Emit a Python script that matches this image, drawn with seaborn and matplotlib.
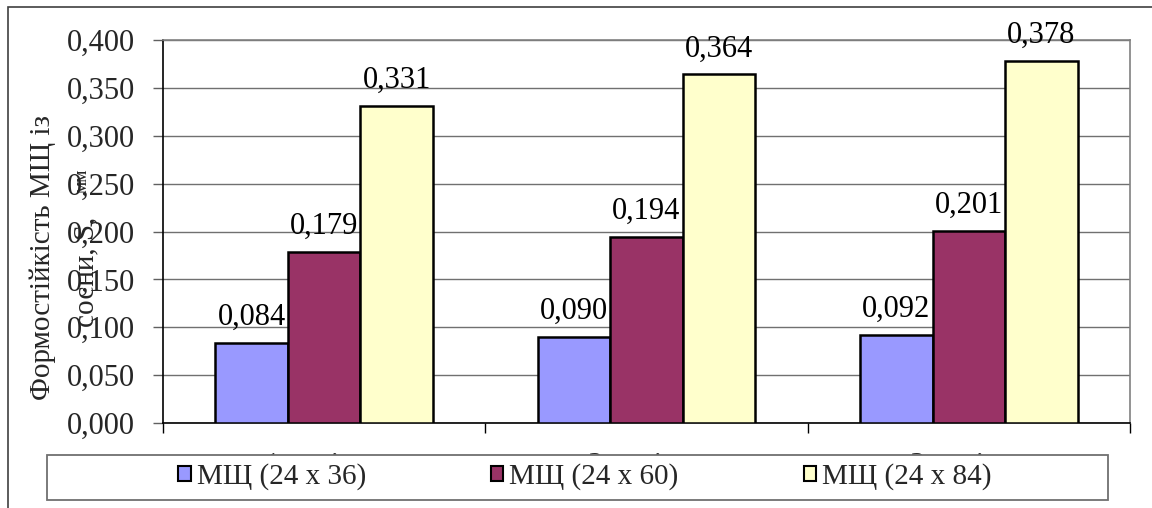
import matplotlib
matplotlib.use("Agg")
import matplotlib.pyplot as plt
from matplotlib.patches import Rectangle, Patch
from matplotlib.ticker import FuncFormatter, MultipleLocator, FixedLocator
import seaborn as sns
import pandas as pd

# Data
categories = ["1 варіант", "2 варіант", "3 варіант"]
series = ["МЩ (24 x 36)", "МЩ (24 x 60)", "МЩ (24 x 84)"]
values_24x36 = [0.084, 0.090, 0.092]
values_24x60 = [0.179, 0.194, 0.201]
values_24x84 = [0.331, 0.364, 0.378]
colors = ["#9999FF", "#993366", "#FFFFCC"]

rows = []
for s, vals in zip(series, [values_24x36, values_24x60, values_24x84]):
    for c, v in zip(categories, vals):
        rows.append({"cat": c, "series": s, "val": v})
df = pd.DataFrame(rows)

sns.set_style("white")
plt.rcParams["font.family"] = ["Liberation Serif", "DejaVu Serif"]

W, H = 1152, 508
fig = plt.figure(figsize=(W / 100, H / 100), dpi=100)
fig.patch.set_facecolor("white")

def fx(px):
    return px / W

def fy(py):
    return 1 - py / H

ax = fig.add_axes([fx(163), fy(423), fx(1130) - fx(163), fy(40) - fy(423)])

sns.barplot(data=df, x="cat", y="val", hue="series", order=categories,
            hue_order=series, palette=colors, saturation=1, width=0.675,
            edgecolor="black", linewidth=1.8, legend=False, ax=ax, zorder=3)

fmt = lambda v: f"{v:.3f}".replace(".", ",")

for cont in ax.containers:
    ax.bar_label(cont, fmt=fmt, padding=8, fontsize=22, color="black")

ax.set_ylim(0, 0.4)
ax.set_xlim(-0.5, 2.5)
ax.yaxis.set_major_locator(MultipleLocator(0.05))
ax.yaxis.set_major_formatter(FuncFormatter(lambda v, p: fmt(v)))
ax.grid(axis="y", color="#707070", linewidth=1.0, zorder=0)
ax.set_axisbelow(True)

ax.tick_params(axis="y", direction="out", length=7, width=1, color="#606060",
               pad=13, labelsize=22, left=True)
ax.xaxis.set_minor_locator(FixedLocator([-0.5, 0.5, 1.5, 2.5]))
ax.tick_params(axis="x", which="major", length=0, pad=21, labelsize=22)
ax.tick_params(axis="x", which="minor", direction="out", length=7, width=1,
               color="black", bottom=True)
ax.set_xlabel("")
ax.set_ylabel("")

for side in ["top", "right"]:
    ax.spines[side].set_visible(True)
    ax.spines[side].set_color("#808080")
    ax.spines[side].set_linewidth(1.2)
for side in ["left", "bottom"]:
    ax.spines[side].set_color("black")
    ax.spines[side].set_linewidth(1.2)

# Y-axis title in two lines
fig.text(fx(43), fy(257), "Формостійкість МЩ із", rotation=90,
         ha="center", va="center", fontsize=21)
fig.text(fx(86), fy(272), "сосни, S,", rotation=90,
         ha="center", va="center", fontsize=21)
fig.text(fx(82), fy(181), "мм", rotation=90,
         ha="center", va="center", fontsize=14)

# Outer chart frame
fig.patches.append(Rectangle((fx(8), -0.2), 1.5, fy(7) + 0.2,
                             transform=fig.transFigure, fill=False,
                             edgecolor="#404040", linewidth=1.2, zorder=1))

# Legend box
fig.patches.append(Rectangle((fx(47), fy(500)), fx(1108) - fx(47), fy(455) - fy(500),
                             transform=fig.transFigure, facecolor="white",
                             edgecolor="#707070", linewidth=1.3, zorder=5))

handles = [Patch(facecolor=c, edgecolor="black", linewidth=1.5) for c in colors]
leg = fig.legend(handles, series, loc="center", bbox_to_anchor=(fx(585), fy(477)),
                 ncol=3, frameon=False, fontsize=21, handlelength=0.42,
                 handleheight=0.42, handletextpad=0.2, columnspacing=4.3,
                 borderpad=0)
leg.set_zorder(6)

fig.savefig("out.png", dpi=100, facecolor="white")
